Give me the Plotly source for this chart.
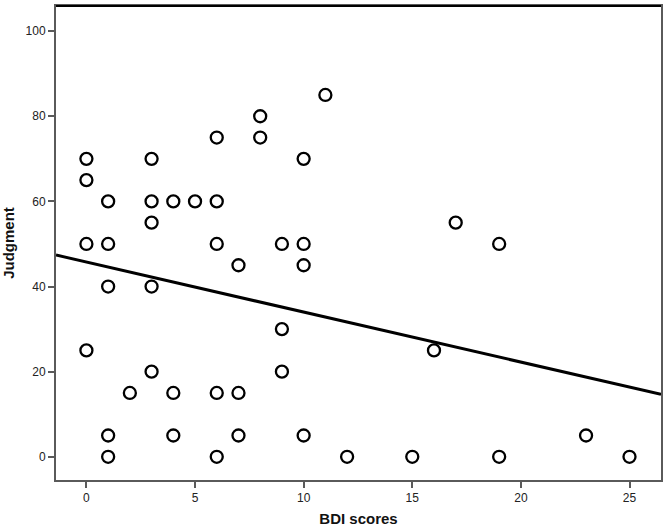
import numpy as np
import plotly.graph_objects as go

bdi = [0, 0, 0, 0,
       1, 1, 1, 1, 1,
       2,
       3, 3, 3, 3, 3,
       4, 4, 4,
       5,
       6, 6, 6, 6, 6,
       7, 7, 7,
       8, 8,
       9, 9, 9,
       10, 10, 10, 10,
       11, 12, 15, 16, 17,
       19, 19,
       23, 25]
judgment = [70, 65, 50, 25,
            60, 50, 40, 5, 0,
            15,
            70, 60, 55, 40, 20,
            60, 15, 5,
            60,
            75, 60, 50, 15, 0,
            45, 15, 5,
            80, 75,
            50, 30, 20,
            70, 50, 45, 5,
            85, 0, 0, 25, 55,
            50, 0,
            5, 0]

# fit line
fit_intercept = 45.75
fit_slope = -1.175

x_ticks = [0, 5, 10, 15, 20, 25]
y_ticks = [0, 20, 40, 60, 80, 100]
x_range = [-1.4, 26.45]
y_range = [-5.45, 105.9]

line_x = np.array(x_range)
line_y = fit_intercept + fit_slope * line_x

fig = go.Figure()
fig.add_trace(go.Scatter(
    x=line_x, y=line_y, mode="lines",
    line=dict(color="black", width=3), showlegend=False, hoverinfo="skip"))
fig.add_trace(go.Scatter(
    x=bdi, y=judgment, mode="markers",
    marker=dict(symbol="circle-open", size=12, color="black",
                line=dict(width=2.3, color="black")),
    showlegend=False))

axis_common = dict(showgrid=False, zeroline=False, showline=True,
                   linecolor="#5a5a5a", linewidth=2, mirror=True,
                   ticks="outside", ticklen=6, tickwidth=1.5, tickcolor="#5a5a5a",
                   tickfont=dict(family="Liberation Sans, Arial", size=12, color="#222"))

fig.update_xaxes(range=x_range, tickvals=x_ticks, **axis_common,
                 title=dict(text="<b>BDI scores</b>", standoff=9,
                            font=dict(family="Liberation Sans, Arial", size=15, color="#111")))
fig.update_yaxes(range=y_range, tickvals=y_ticks, **axis_common,
                 title=dict(text="<b>Judgment</b>", standoff=10,
                            font=dict(family="Liberation Sans, Arial", size=15, color="#111")))

fig.add_shape(type="line", xref="paper", yref="paper", x0=0, x1=1, y0=1, y1=1,
              line=dict(color="black", width=2))

fig.update_layout(width=667, height=532,
                  margin=dict(l=56, r=4, t=4, b=52),
                  paper_bgcolor="white", plot_bgcolor="white")

fig.write_html("out.html", config={"displayModeBar": False},
               post_script="document.body.style.margin='0';document.body.style.padding='0';")
